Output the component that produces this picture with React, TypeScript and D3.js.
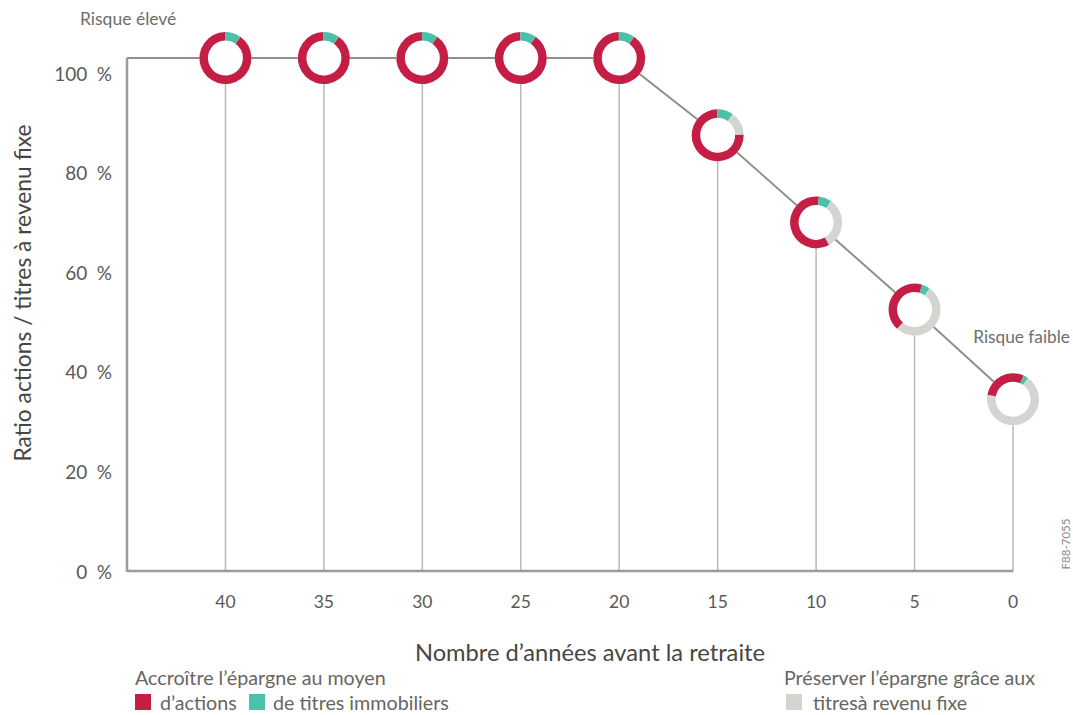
import * as d3 from 'd3'

// years before retirement
const years = [40, 35, 30, 25, 20, 15, 10, 5, 0]
// equity ratio (position of each ring)
const ratio = [103, 103, 103, 103, 103, 87.5, 70, 52.5, 34.5]
// composition of each ring (%)
const actions = [90, 90, 90, 90, 90, 75, 60, 43, 29]
const immobiliers = [10, 10, 10, 10, 10, 10, 8, 5, 3]
const fixe = [0, 0, 0, 0, 0, 15, 32, 52, 68]

const yTicks = [0, 20, 40, 60, 80, 100]

const RED = '#c41e45'
const TEAL = '#4dc0a9'
const GREY = '#d4d4d0'
const AXIS = '#9d9d97'
const TEXT = '#5a5a55'
const FONT = 'Lato, "Open Sans", sans-serif'

const W = 1073
const H = 715

export default function App() {
  const x = d3.scaleLinear().domain([45, 0]).range([127, 1013])
  const y = d3.scaleLinear().domain([0, 100]).range([571, 73])

  const pie = d3
    .pie<number>()
    .sort(null)
    .startAngle((35 * Math.PI) / 180)
    .endAngle((35 * Math.PI) / 180 + 2 * Math.PI)
  const arc = d3.arc<d3.PieArcDatum<number>>().innerRadius(17.5).outerRadius(26)

  const pts: [number, number][] = [[x(45), y(ratio[0])], ...years.map((yr, i) => [x(yr), y(ratio[i])] as [number, number])]
  const line = d3.line()(pts) ?? ''

  const colors = [GREY, RED, TEAL]

  return (
    <svg
      width={W}
      height={H}
      style={{ position: 'absolute', left: 0, top: 0, fontFamily: FONT }}
    >
      <rect width={W} height={H} fill="#fff" />

      {/* drop lines */}
      {years.map((yr, i) => (
        <line
          key={'d' + yr}
          x1={x(yr)}
          x2={x(yr)}
          y1={y(ratio[i])}
          y2={y(0)}
          stroke="#b9b9b4"
          strokeWidth={1.5}
        />
      ))}

      {/* axes frame */}
      <line x1={x(45)} x2={x(45)} y1={y(ratio[0])} y2={y(0) + 1} stroke={AXIS} strokeWidth={2.5} />
      <line x1={x(45)} x2={x(0)} y1={y(0)} y2={y(0)} stroke={AXIS} strokeWidth={2.5} />
      <path d={line} fill="none" stroke="#8f8f8a" strokeWidth={2} />

      {/* y ticks */}
      {yTicks.map(t => (
        <text
          key={'y' + t}
          x={112}
          y={y(t)}
          textAnchor="end"
          dominantBaseline="central"
          fontSize={19}
          fill={TEXT}
        >
          {t + '\u2002%'}
        </text>
      ))}

      {/* x ticks */}
      {years.map(yr => (
        <text
          key={'x' + yr}
          x={x(yr)}
          y={601}
          textAnchor="middle"
          dominantBaseline="central"
          fontSize={17.5}
          fill={TEXT}
        >
          {yr}
        </text>
      ))}

      {/* rings */}
      {years.map((yr, i) => (
        <g key={'r' + yr} transform={`translate(${x(yr)},${y(ratio[i])})`}>
          <circle r={26} fill="#fff" />
          {pie([fixe[i], actions[i], immobiliers[i]]).map((a, j) =>
            a.value > 0 ? <path key={j} d={arc(a) ?? ''} fill={colors[j]} /> : null
          )}
        </g>
      ))}

      {/* titles */}
      <text
        transform="translate(22,293) rotate(-90)"
        textAnchor="middle"
        dominantBaseline="central"
        fontSize={22.8}
        fill="#47473f"
      >
        Ratio actions / titres à revenu fixe
      </text>
      <text x={590} y={652} textAnchor="middle" dominantBaseline="central" fontSize={23.7} fill="#47473f">
        Nombre d’années avant la retraite
      </text>

      <text x={80} y={18} dominantBaseline="central" fontSize={17.5} fill="#6e6e69">
        Risque élevé
      </text>
      <text x={1070} y={336} textAnchor="end" dominantBaseline="central" fontSize={17.3} fill="#6e6e69">
        Risque faible
      </text>

      <text
        transform="translate(1065,544) rotate(-90)"
        textAnchor="middle"
        dominantBaseline="central"
        fontSize={11.5}
        fill="#8a8a85"
      >
        F88-7055
      </text>

      {/* legend */}
      <text x={135} y={677} dominantBaseline="central" fontSize={19.7} fill="#66665f">
        Accroître l’épargne au moyen
      </text>
      <rect x={135} y={694} width={16} height={16} fill={RED} />
      <text x={160} y={702} dominantBaseline="central" fontSize={19.7} fill="#66665f">
        d’actions
      </text>
      <rect x={249} y={694} width={16} height={16} fill={TEAL} />
      <text x={273} y={702} dominantBaseline="central" fontSize={19.7} fill="#66665f">
        de titres immobiliers
      </text>

      <text x={784} y={677} dominantBaseline="central" fontSize={19.6} fill="#66665f">
        Préserver l’épargne grâce aux
      </text>
      <rect x={786} y={694} width={16} height={16} fill={GREY} />
      <text x={813} y={702} dominantBaseline="central" fontSize={19.6} fill="#66665f">
        titresà revenu fixe
      </text>
    </svg>
  )
}
